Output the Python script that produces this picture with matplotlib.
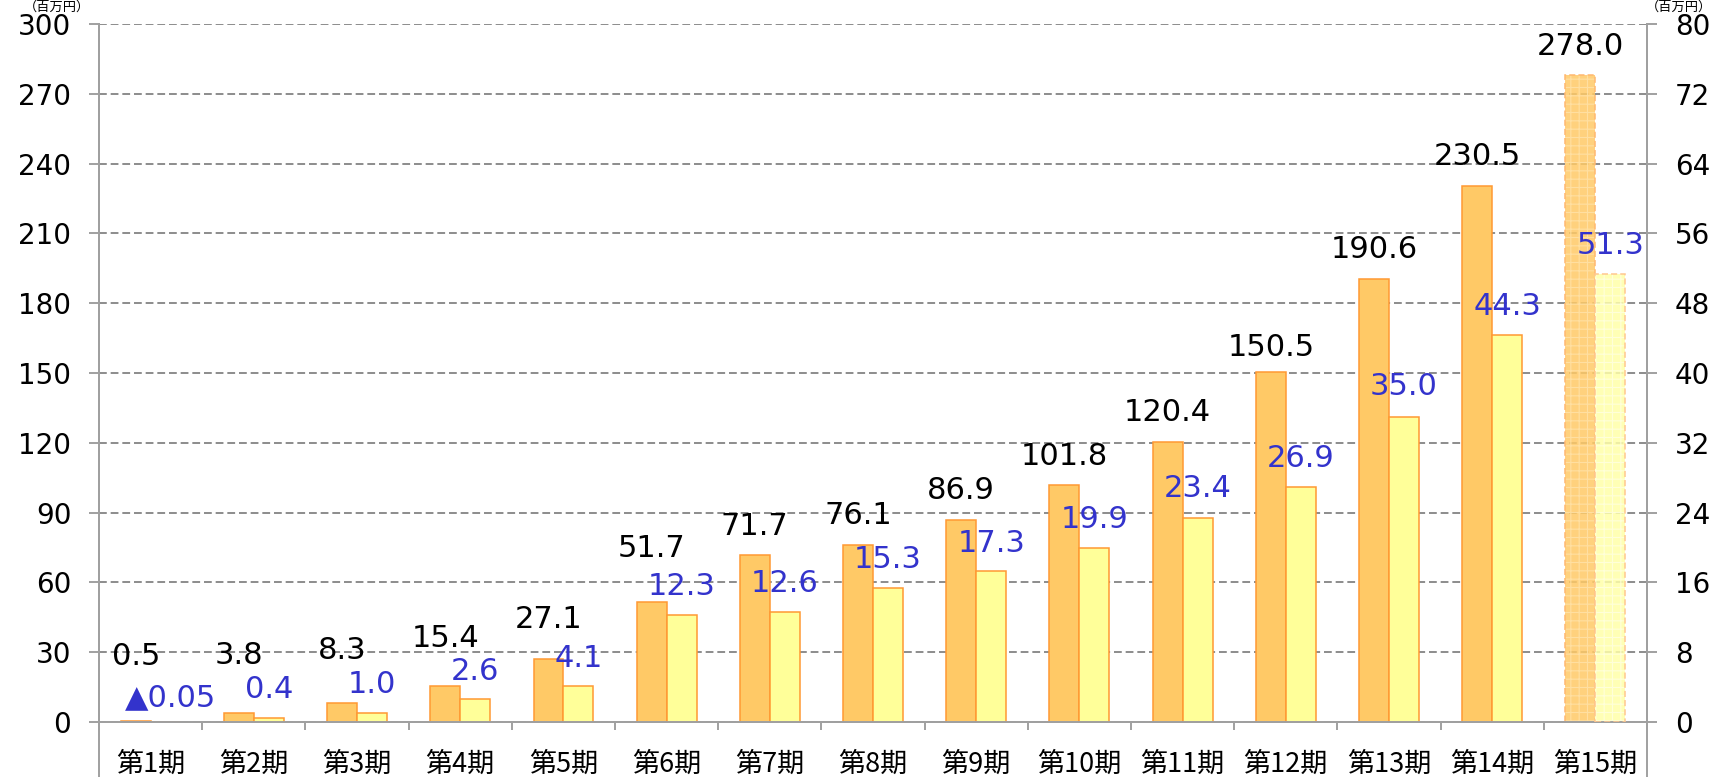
import numpy as np
import matplotlib
matplotlib.use("Agg")
import matplotlib.pyplot as plt

# data
periods = ["第1期", "第2期", "第3期", "第4期", "第5期", "第6期", "第7期", "第8期",
           "第9期", "第10期", "第11期", "第12期", "第13期", "第14期", "第15期"]
sales = [0.5, 3.8, 8.3, 15.4, 27.1, 51.7, 71.7, 76.1, 86.9, 101.8, 120.4, 150.5, 190.6, 230.5, 278.0]
profit = [-0.05, 0.4, 1.0, 2.6, 4.1, 12.3, 12.6, 15.3, 17.3, 19.9, 23.4, 26.9, 35.0, 44.3, 51.3]
sales_labels = ["0.5", "3.8", "8.3", "15.4", "27.1", "51.7", "71.7", "76.1", "86.9",
                "101.8", "120.4", "150.5", "190.6", "230.5", "278.0"]
profit_labels = ["▲0.05", "0.4", "1.0", "2.6", "4.1", "12.3", "12.6", "15.3", "17.3",
                 "19.9", "23.4", "26.9", "35.0", "44.3", "51.3"]
left_ticks = [0, 30, 60, 90, 120, 150, 180, 210, 240, 270, 300]
right_ticks = [0, 8, 16, 24, 32, 40, 48, 56, 64, 72, 80]
unit_left = "（百万円）"
unit_right = "（百万円）"

# layout: how far (pixels) each label centre sits above its bar top
sales_lift = [64, 58, 52, 48, 39, 53, 29, 29, 29, 29, 29, 24, 29, 29, 29]
profit_lift = [24, 29, 29, 28, 28, 28, 29, 29, 28, 29, 29, 29, 30, 29, 29]

ORANGE = "#FFC966"
YELLOW = "#FFFF99"
EDGE = "#FF9933"
GRID = "#8C8C8C"
AXIS = "#A0A0A0"
BLUE = "#3333CC"
CJK = ['Noto Sans CJK JP', 'DejaVu Sans']

plt.rcParams['font.family'] = ['DejaVu Sans']
plt.rcParams['hatch.linewidth'] = 0.8

fig = plt.figure(figsize=(17.17, 7.77), dpi=100)
ax = fig.add_axes([0.0577, 0.0708, 0.9015, 0.8983])
ax2 = ax.twinx()

x = np.arange(len(periods))
w = 0.29
n = len(periods) - 1  # last period is a forecast, drawn faded

ax.set_axisbelow(True)
ax.bar(x[:n] - w / 2, sales[:n], w, color=ORANGE, edgecolor=EDGE, linewidth=1.1, zorder=2)
ax2.bar(x[:n] + w / 2, profit[:n], w, color=YELLOW, edgecolor=EDGE, linewidth=1.1, zorder=2)

# forecast bars: dotted pattern, dashed outline, see-through
ax.bar(x[n] - w / 2, sales[n], w, color=ORANGE, edgecolor="#FFE2A8", hatch="++",
       linewidth=0, alpha=0.85, zorder=2)
ax.bar(x[n] - w / 2, sales[n], w, fill=False, edgecolor="#FFB870", linestyle=(0, (4, 2)),
       linewidth=1.1, zorder=3)
ax2.bar(x[n] + w / 2, profit[n], w, color="#FFFFA8", edgecolor="#FFFFE0", hatch="++",
        linewidth=0, alpha=0.85, zorder=2)
ax2.bar(x[n] + w / 2, profit[n], w, fill=False, edgecolor="#FFC890", linestyle=(0, (4, 2)),
        linewidth=1.1, zorder=3)

# axes ranges and ticks
ax.set_xlim(-0.5, len(periods) - 0.5)
ax.set_ylim(0, 300)
ax2.set_ylim(0, 80)
ax.set_yticks(left_ticks)
ax2.set_yticks(right_ticks)
ax.set_xticks(x)
ax.set_xticklabels(periods, family=CJK, fontsize=19.5)
ax.set_xticks(np.arange(len(periods) + 1) - 0.5, minor=True)
ax.tick_params(axis='x', which='major', length=0, pad=21)
ax.tick_params(axis='x', which='minor', length=6, width=1.4, color=AXIS)
ax.tick_params(axis='y', length=7, width=1.4, color=AXIS, labelsize=20, pad=13)
ax2.tick_params(axis='y', length=7, width=1.4, color=AXIS, labelsize=20, pad=13)

ax.yaxis.grid(True, color=GRID, linestyle=(0, (4, 2)), linewidth=1.4)
for a in (ax, ax2):
    a.spines['top'].set_visible(False)
    for s in ('left', 'right', 'bottom'):
        a.spines[s].set_color(AXIS)
        a.spines[s].set_linewidth(1.4)

# the two vertical axis lines run down through the label row
for xa in (0, 1):
    ax.plot([xa, xa], [0, -0.2], transform=ax.transAxes, color=AXIS, lw=1.4,
            clip_on=False, zorder=5)

# data labels
for i in range(len(periods)):
    ax2.annotate(sales_labels[i], (x[i] - w / 2, sales[i]), xycoords=ax.transData,
                 xytext=(0, sales_lift[i]), textcoords='offset pixels',
                 ha='center', va='center', fontsize=22, color='black', zorder=6)
    ax2.annotate(profit_labels[i], (x[i] + w / 2 + (0.05 if i == 0 else 0), max(profit[i], 0)),
                 xytext=(0, profit_lift[i]), textcoords='offset pixels',
                 ha='center', va='center', fontsize=22, color=BLUE, zorder=6)

# unit captions squeezed into the top strip
fig.text(0.014, 0.999, unit_left, family=CJK, fontsize=9.5, ha='left', va='top')
fig.text(0.997, 0.999, unit_right, family=CJK, fontsize=9.5, ha='right', va='top')

fig.savefig("out.png", dpi=100)
